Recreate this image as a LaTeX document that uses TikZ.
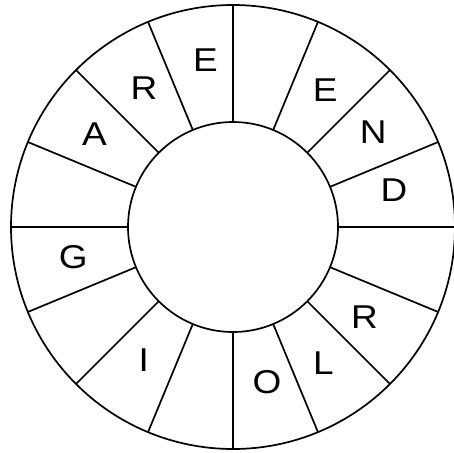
\documentclass[tikz,border=0pt]{standalone}
\usepackage{fontspec}
\setmainfont{Liberation Sans}
\usetikzlibrary{calc}
\newcommand{\wideletter}[1]{\scalebox{1.12}[1]{#1}}
\begin{document}
\begin{tikzpicture}[x=1pt,y=-1pt,
  ring/.style={line width=1.7pt,black},
  letter/.style={inner sep=0pt,font=\fontsize{33}{33}\selectfont}]
\useasboundingbox (0,0) rectangle (453,453);
\coordinate (c) at (233,227);
\draw[ring] (c) circle[radius=222];
\draw[ring] (c) circle[radius=105];
\foreach \a in {0,22.5,...,337.5}
  \draw[ring] ($(c)+(\a:105)$) -- ($(c)+(\a:222)$);
\node[letter] (e1) at (205.5,59.8) {\wideletter{E}};
\node[letter] (r1) at (144,88) {\wideletter{R}};
\node[letter] (a1) at (94.5,133.7) {\wideletter{A}};
\node[letter] (g1) at (73.3,257.5) {\wideletter{G}};
\node[letter] (i1) at (143.8,360) {\wideletter{I}};
\node[letter] (o1) at (267,382.5) {\wideletter{O}};
\node[letter] (l1) at (323.3,362.8) {\wideletter{L}};
\node[letter] (r2) at (364.5,317.5) {\wideletter{R}};
\node[letter] (d1) at (394,190.5) {\wideletter{D}};
\node[letter] (n1) at (373.3,131.7) {\wideletter{N}};
\node[letter] (e2) at (325.3,90) {\wideletter{E}};
\end{tikzpicture}
\end{document}
